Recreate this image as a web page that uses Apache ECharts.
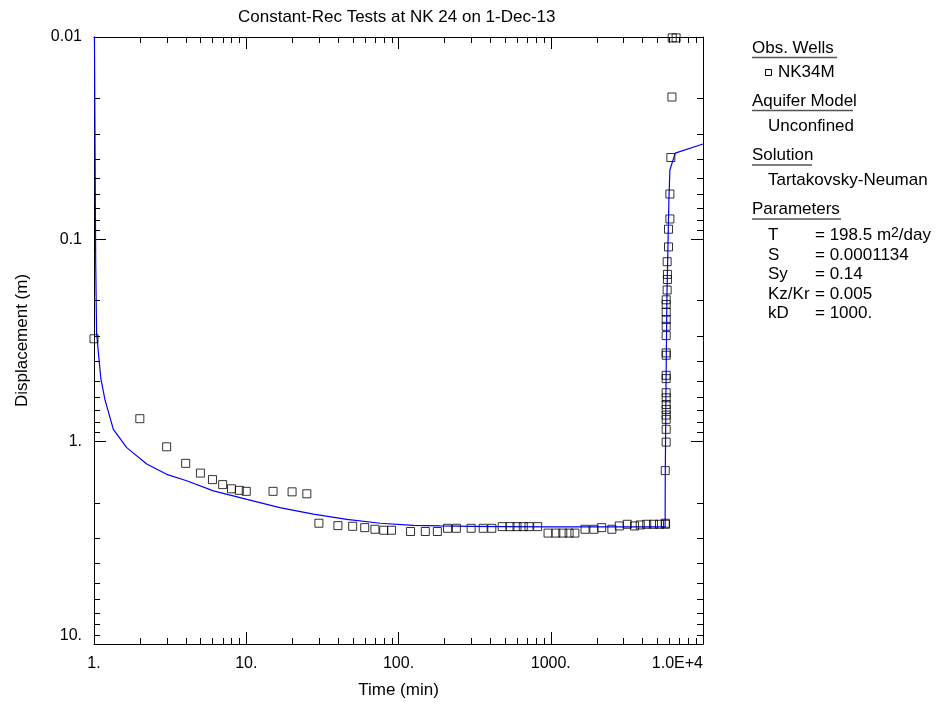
<!DOCTYPE html>
<html><head><meta charset="utf-8">
<script src="https://cdn.jsdelivr.net/npm/echarts@6/dist/echarts.min.js"></script>
<style>html,body{margin:0;padding:0;background:#fff}#c{width:939px;height:704px}</style>
</head><body><div id="c"></div>
<script>
// ---- data ----
const obsTime = [1, 2, 3, 4, 5, 6, 7, 8, 9, 10, 15, 20, 25, 30, 40, 50, 60, 70, 80, 90,
  120, 150, 180, 210, 240, 300, 360, 410, 480, 540, 600, 660, 720, 820,
  960, 1080, 1200, 1320, 1440, 1680, 1920, 2160, 2520, 2820, 3180, 3550, 3870, 4270, 4730, 5180, 5650, 5680,
  5650, 5730, 5730, 5730, 5730, 5730, 5730, 5730, 5730, 5730, 5730, 5730, 5730, 5730, 5730, 5730, 5730, 5730, 5730,
  5815, 5840, 5840, 5815, 5935, 5935, 6060, 6060, 6150, 6250, 6280, 6660];
const obsDisp = [0.31, 0.77, 1.06, 1.28, 1.43, 1.54, 1.63, 1.71, 1.74, 1.76, 1.76, 1.77, 1.81, 2.53, 2.60, 2.62, 2.66, 2.71, 2.74, 2.74,
  2.78, 2.78, 2.78, 2.68, 2.68, 2.68, 2.68, 2.68, 2.63, 2.63, 2.63, 2.63, 2.63, 2.63,
  2.83, 2.83, 2.83, 2.83, 2.83, 2.71, 2.71, 2.66, 2.71, 2.61, 2.56, 2.61, 2.58, 2.56, 2.56, 2.56, 2.53, 2.56,
  1.39, 1.005, 0.869, 0.776, 0.739, 0.693, 0.655, 0.607, 0.573, 0.488, 0.470, 0.374, 0.364, 0.299, 0.269, 0.249, 0.229, 0.210, 0.199,
  0.178, 0.158, 0.149, 0.129, 0.109, 0.0891, 0.0793, 0.0597, 0.0394, 0.0198, 0.0101, 0.0101];
const curveTime = [1.0, 1.026, 1.04, 1.078, 1.11, 1.18, 1.34, 1.64, 2.22, 3.0, 4.06, 6.09, 10.1, 16.6, 27.6, 45.8, 75.9, 125, 188,
  300, 500, 1000, 2000, 3000, 4000, 5000, 5640, 5650, 5705, 5790, 5880, 5970, 6060, 6570, 10000];
const curveDisp = [0.004, 0.13, 0.29, 0.39, 0.49, 0.62, 0.87, 1.07, 1.29, 1.45, 1.56, 1.75, 1.93, 2.12, 2.28, 2.42, 2.53, 2.59, 2.61,
  2.62, 2.63, 2.64, 2.64, 2.64, 2.64, 2.64, 2.64, 1.5, 0.62, 0.2, 0.113, 0.064, 0.0454, 0.0375, 0.0338];
const xTickValues = [1, 10, 100, 1000, 10000];
const xTickLabels = ['1.', '10.', '100.', '1000.', '1.0E+4'];
const yTickValues = [0.01, 0.1, 1, 10];
const yTickLabels = ['0.01', '0.1', '1.', '10.'];
const xMinorTicks = [2,3,4,5,6,7,8,9,20,30,40,50,60,70,80,90,200,300,400,500,600,700,800,900,2000,3000,4000,5000,6000,7000,8000,9000];
const yMinorTicks = [0.02,0.03,0.04,0.05,0.06,0.07,0.08,0.09,0.2,0.3,0.4,0.5,0.6,0.7,0.8,0.9,2,3,4,5,6,7,8,9];

const FONT = '"Liberation Sans", Arial, sans-serif';
const chart = echarts.init(document.getElementById('c'));

function fmt(values, labels) {
  return function (v) {
    for (let i = 0; i < values.length; i++) {
      if (Math.abs(Math.log10(v) - Math.log10(values[i])) < 1e-6) return labels[i];
    }
    return '';
  };
}
const crisp = v => Math.round(v) + 0.5;

const axisLineStyle = { color: '#000', width: 1 };
const tickStyle = { color: '#000', width: 1 };

const legendItems = [];
function head(text, y, x2) {
  legendItems.push({ type: 'text', x: 752, y: y, style: { text: text, font: '17px ' + FONT, fill: '#000', verticalAlign: 'middle' } });
  legendItems.push({ type: 'line', shape: { x1: 752, y1: y + 9.5, x2: x2, y2: y + 9.5 }, style: { stroke: '#555', lineWidth: 1.5 } });
}
function line(text, x, y) {
  legendItems.push({ type: 'text', x: x, y: y, style: { text: text, font: '17px ' + FONT, fill: '#000', verticalAlign: 'middle' } });
}
head('Obs. Wells', 48, 837);
legendItems.push({ type: 'rect', shape: { x: 765.5, y: 69.5, width: 6, height: 6 }, style: { fill: 'none', stroke: '#000', lineWidth: 1 } });
line('NK34M', 778, 72);
head('Aquifer Model', 101, 853);
line('Unconfined', 768, 126);
head('Solution', 155.5, 812);
line('Tartakovsky-Neuman', 768, 180.5);
head('Parameters', 209.5, 841);
const paramNames = ['T', 'S', 'Sy', 'Kz/Kr', 'kD'];
const paramValues = ['= 198.5 m{s|2}/day', '= 0.0001134', '= 0.14', '= 0.005', '= 1000.'];
const paramY = [235, 255.5, 274.5, 294, 313];
paramNames.forEach((n, i) => {
  line(n, 768, paramY[i]);
  legendItems.push({ type: 'text', x: 815, y: paramY[i], style: {
    text: paramValues[i], font: '17px ' + FONT, fill: '#000', verticalAlign: 'middle',
    rich: { s: { fontSize: 14, fontFamily: FONT, verticalAlign: 'top', lineHeight: 14, padding: [0, 0, 9, 0] } }
  } });
});

chart.setOption({
  animation: false,
  backgroundColor: '#fff',
  title: {
    text: 'Constant-Rec Tests at NK 24 on 1-Dec-13',
    left: 233, top: 4,
    textStyle: { fontFamily: FONT, fontSize: 17, fontWeight: 'normal', color: '#000' }
  },
  grid: { left: 94, right: 236, top: 37, bottom: 59 },
  xAxis: [{
    type: 'log', logBase: 10, min: 1, max: 10000, position: 'bottom',
    name: 'Time (min)', nameLocation: 'middle', nameGap: 38,
    nameTextStyle: { fontFamily: FONT, fontSize: 17, color: '#000' },
    axisLine: { lineStyle: axisLineStyle },
    axisTick: { inside: true, length: 12, lineStyle: tickStyle },
    axisLabel: { formatter: fmt(xTickValues, xTickLabels), fontFamily: FONT, fontSize: 16, color: '#000', margin: 12, alignMaxLabel: 'right' },
    splitLine: { show: false }
  }, {
    type: 'log', logBase: 10, min: 1, max: 10000, position: 'top',
    axisLine: { lineStyle: axisLineStyle },
    axisTick: { inside: true, length: 12, lineStyle: tickStyle },
    axisLabel: { show: false }, splitLine: { show: false }
  }],
  yAxis: [{
    type: 'log', logBase: 10, min: 0.01, max: 10, inverse: true, position: 'left',
    name: 'Displacement (m)', nameLocation: 'middle', nameGap: 63,
    nameTextStyle: { fontFamily: FONT, fontSize: 17, color: '#000' },
    axisLine: { lineStyle: axisLineStyle },
    axisTick: { inside: true, length: 12, lineStyle: tickStyle },
    axisLabel: { formatter: fmt(yTickValues, yTickLabels), fontFamily: FONT, fontSize: 16, color: '#000', margin: 12, verticalAlignMaxLabel: 'bottom' },
    splitLine: { show: false }
  }, {
    type: 'log', logBase: 10, min: 0.01, max: 10, inverse: true, position: 'right',
    axisLine: { lineStyle: axisLineStyle },
    axisTick: { inside: true, length: 12, lineStyle: tickStyle },
    axisLabel: { show: false }, splitLine: { show: false }
  }],
  graphic: legendItems,
  series: [{
    type: 'line', name: 'Tartakovsky-Neuman',
    data: curveTime.map((t, i) => [t, curveDisp[i]]),
    showSymbol: false, symbol: 'none', clip: true,
    lineStyle: { color: '#0000ff', width: 1.2 }, z: 3
  }, {
    type: 'scatter', name: 'NK34M',
    data: obsTime.map((t, i) => [t, obsDisp[i]]),
    symbol: 'rect', symbolSize: 8, clip: false,
    itemStyle: { color: 'rgba(0,0,0,0)', borderColor: '#000', borderWidth: 1 }, z: 4
  }, {
    type: 'custom', silent: true, clip: false, z: 5,
    data: xMinorTicks.map(v => [v, 1]),
    renderItem: function (params, api) {
      const v = api.value(0);
      const top = api.coord([v, 0.01]);
      const bot = api.coord([v, 10]);
      const x = crisp(top[0]);
      return { type: 'group', children: [
        { type: 'line', shape: { x1: x, y1: top[1], x2: x, y2: top[1] + 6 }, style: { stroke: '#000', lineWidth: 1 } },
        { type: 'line', shape: { x1: x, y1: bot[1], x2: x, y2: bot[1] - 6 }, style: { stroke: '#000', lineWidth: 1 } }
      ] };
    }
  }, {
    type: 'custom', silent: true, clip: false, z: 5,
    data: yMinorTicks.map(v => [1, v]),
    renderItem: function (params, api) {
      const v = api.value(1);
      const l = api.coord([1, v]);
      const r = api.coord([10000, v]);
      const y = crisp(l[1]);
      return { type: 'group', children: [
        { type: 'line', shape: { x1: l[0], y1: y, x2: l[0] + 6, y2: y }, style: { stroke: '#000', lineWidth: 1 } },
        { type: 'line', shape: { x1: r[0], y1: y, x2: r[0] - 6, y2: y }, style: { stroke: '#000', lineWidth: 1 } }
      ] };
    }
  }]
});
</script></body></html>
